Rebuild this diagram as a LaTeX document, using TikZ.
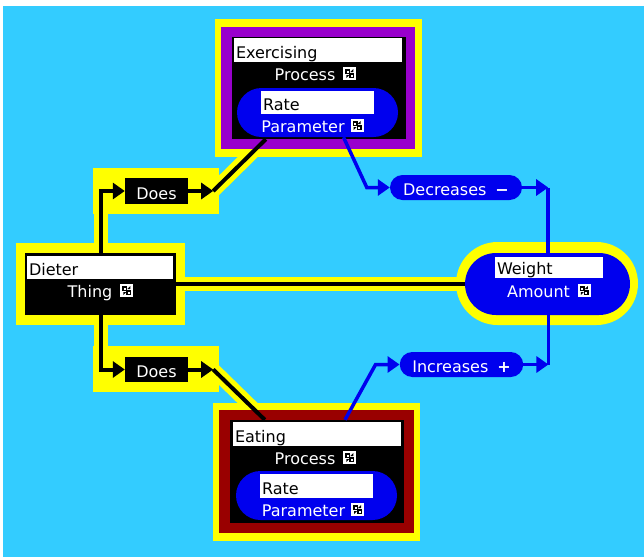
\documentclass[tikz,border=0pt]{standalone}
\usepackage{fontspec}
\setmainfont{DejaVu Sans}
\usetikzlibrary{arrows.meta,shapes.misc,calc}

\definecolor{skyc}{HTML}{33CCFF}
\definecolor{hilite}{HTML}{FFFF00}
\definecolor{procpurple}{HTML}{9900CC}
\definecolor{procred}{HTML}{990000}
\definecolor{parblue}{HTML}{0000EE}

\pgfdeclarelayer{back}
\pgfdeclarelayer{glow}
\pgfsetlayers{back,glow,main}

% small "open" icon shown after a type name
\newcommand\winicon{\tikz[baseline=0pt,x=1pt,y=1pt,line width=0pt]{%
  \fill[white] (0,0) rectangle (13,13);
  \fill[black] (2,6) rectangle (7,11);
  \fill[white] (3.5,7.5) rectangle (5.5,9.5);
  \fill[black] (6,2) rectangle (11,7);
  \fill[white] (7.5,3.5) rectangle (9.5,5.5);
  \fill[black] (7,8) -- (10,11) -- (10,8) -- cycle;
  \fill[black] (6,5) -- (3,2) -- (3,5) -- cycle;}}

\tikzset{
  txt/.style={font=\fontsize{16}{18}\selectfont, inner sep=0pt},
  box/.style={rectangle, inner sep=0pt, draw=none},
  pill/.style={rounded rectangle, inner sep=0pt, draw=none},
  namebox/.style={box, fill=white, text=black, font=\fontsize{16}{18}\selectfont,
    align=left, inner xsep=2pt, inner ysep=0pt},
  tagbox/.style={box, fill=black, text=white, font=\fontsize{16}{18}\selectfont},
  linkpill/.style={pill, fill=parblue, text=white, font=\fontsize{16}{18}\selectfont},
  blk/.style={line width=4pt, black},
  blu/.style={line width=3.5pt, parblue},
  glowline/.style={line width=14pt, hilite},
  tip/.style={-{Triangle[length=12pt,width=16pt]}},
}

\begin{document}
\begin{tikzpicture}[x=1pt,y=-1pt]
\useasboundingbox (0,0) rectangle (644,557);
\begin{pgfonlayer}{back}
  \fill[skyc] (3,6) rectangle (644,557);
\end{pgfonlayer}

% Exercising process
\node[box, fill=hilite, minimum width=207pt, minimum height=138pt] (exY) at (318.5,88) {};
\node[box, fill=procpurple, minimum width=194pt, minimum height=122pt] (exP) at (318,88) {};
\node[box, fill=black, minimum width=174pt, minimum height=102pt] (exB) at (319,88) {};
\node[namebox, text width=164pt, text height=20pt, text depth=4pt] (exL) at (318,50) {Exercising};
\node[txt, anchor=base, text=white] (exK) at (315.5,80) {Process\hspace{8pt}\winicon};
\node[pill, fill=parblue, minimum width=161pt, minimum height=49pt] (exR) at (317.5,112.5) {};
\node[namebox, text width=109pt, text height=19pt, text depth=4pt] (exRL) at (317.5,102.5) {Rate};
\node[txt, anchor=base, text=white] (exRK) at (312.5,132) {Parameter\hspace{6pt}\winicon};

% Eating process
\node[box, fill=hilite, minimum width=207pt, minimum height=138pt] (eaY) at (316.5,472) {};
\node[box, fill=procred, minimum width=195pt, minimum height=123pt] (eaP) at (316.5,471.5) {};
\node[box, fill=black, minimum width=174pt, minimum height=103pt] (eaB) at (317,471.5) {};
\node[namebox, text width=164pt, text height=20pt, text depth=4pt] (eaL) at (317,434) {Eating};
\node[txt, anchor=base, text=white] (eaK) at (315.5,464) {Process\hspace{8pt}\winicon};
\node[pill, fill=parblue, minimum width=161pt, minimum height=49pt] (eaR) at (316.5,495.5) {};
\node[namebox, text width=109pt, text height=20pt, text depth=4pt] (eaRL) at (316.5,486) {Rate};
\node[txt, anchor=base, text=white] (eaRK) at (313,516) {Parameter\hspace{6pt}\winicon};

% Dieter thing
\node[box, fill=hilite, minimum width=169pt, minimum height=82pt] (diY) at (100.5,284) {};
\node[box, fill=black, minimum width=151pt, minimum height=62pt] (diB) at (100.5,284) {};
\node[namebox, text width=142pt, text height=19pt, text depth=4pt] (diL) at (100,267.5) {Dieter};
\node[txt, anchor=base, text=white] (diK) at (100.5,297) {Thing\hspace{8pt}\winicon};

% Weight amount
\node[pill, fill=hilite, minimum width=182pt, minimum height=83pt] (wtY) at (547,283.5) {};
\node[pill, fill=parblue, minimum width=165pt, minimum height=62pt] (wtB) at (547.5,284) {};
\node[namebox, text width=104pt, text height=17pt, text depth=4pt] (wtL) at (549,267.5) {Weight};
\node[txt, anchor=base, text=white] (wtK) at (549,297) {Amount\hspace{8pt}\winicon};

% Does links
\node[box, fill=hilite, minimum width=126pt, minimum height=46pt] (duY) at (156,191) {};
\node[tagbox, minimum width=63pt, text height=21pt, text depth=5pt] (du) at (156.5,191) {Does};
\node[box, fill=hilite, minimum width=126pt, minimum height=46pt] (dlY) at (156,369) {};
\node[tagbox, minimum width=63pt, text height=20pt, text depth=5pt] (dl) at (156.5,369.5) {Does};

% Decreases / Increases links
\node[linkpill, minimum width=132pt, text height=20pt, text depth=5pt] (dec) at (456,187.5) {Decreases\hspace{9pt}\textbf{−}};
\node[linkpill, minimum width=123pt, text height=20pt, text depth=5pt] (inc) at (461.5,364.5) {Increases\hspace{9pt}\textbf{+}};

\coordinate (duTip) at ($(du.east)+(25,0)$);
\coordinate (dlTip) at ($(dl.east)+(25,0)$);
\coordinate (decTip) at ($(dec.east)+(26,0)$);
\coordinate (incTip) at ($(inc.east)+(25,0)$);
\coordinate (exIn) at ($(exB.south west)+(34,0)$);
\coordinate (eaIn) at ($(eaB.north west)+(35,0)$);

% yellow selection glow under the selected connectors
\begin{pgfonlayer}{glow}
  \draw[glowline] (diB.north) |- (du.west);
  \draw[glowline] (diB.south) |- (dl.west);
  \draw[glowline] (duTip) -- (exIn);
  \draw[glowline] (dlTip) -- (eaIn);
  \draw[glowline] (diB.east) -- (wtB.west);
\end{pgfonlayer}

% black connectors
\draw[blk, tip] (diB.north) |- (du.west);
\draw[blk, tip] (du.east) -- (duTip);
\draw[blk] (duTip) -- (exIn);
\draw[blk, tip] (diB.south) |- (dl.west);
\draw[blk, tip] (dl.east) -- (dlTip);
\draw[blk] (dlTip) -- (eaIn);
\draw[blk] (diB.east) -- (wtB.west);

% blue connectors
\draw[blu, tip] ($(exR.south)+(26,0)$) -- ($(dec.west)+(-23,0)$) -- (dec.west);
\draw[blu, tip] (dec.east) -- (decTip);
\draw[blu] (decTip) -- (decTip |- wtL.north);
\draw[blu, tip] ($(eaB.north)+(28,0)$) -- ($(inc.west)+(-24,0)$) -- (inc.west);
\draw[blu, tip] (inc.east) -- (incTip);
\draw[blu] (incTip) -- (incTip |- wtB.south);
\end{tikzpicture}
\end{document}
